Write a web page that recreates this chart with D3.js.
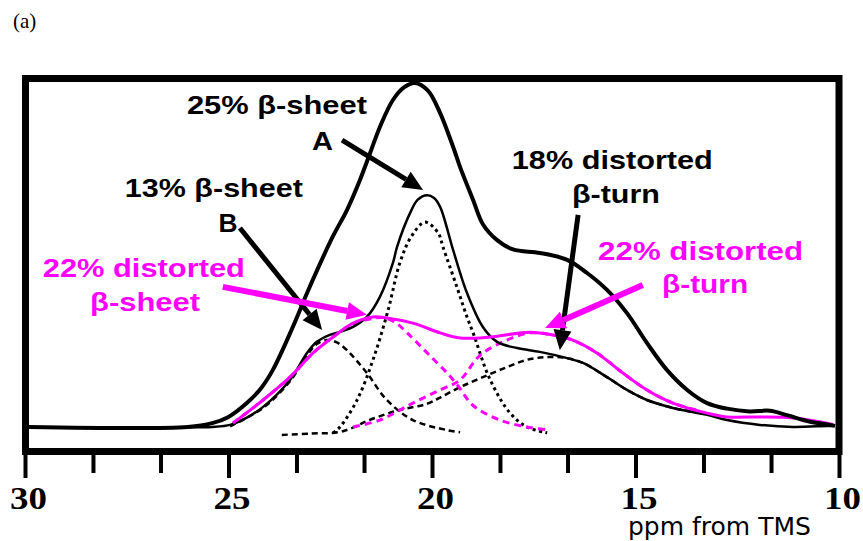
<!DOCTYPE html>
<html>
<head>
<meta charset="utf-8">
<script src="https://cdn.jsdelivr.net/npm/d3@7"></script>
<style>
  body { margin: 0; background: #fff; }
  svg { display: block; }
</style>
</head>
<body>
<svg width="863" height="541"></svg>
<script>
// ppm axis ticks
const majorTicks = [30, 25, 20, 15, 10];
const minorTicks = [28.33, 26.67, 23.33, 21.67, 18.33, 16.67, 13.33, 11.67];

// [ppm, intensity]
const envelope = [[29.9,0.3],[26.0,0.3],[25.4,1.4],[25.0,3.2],[24.55,7.2],[24.2,11.5],[23.91,16.8],[23.42,29.2],
  [23.07,39.0],[22.75,47.5],[22.43,55.5],[22.09,63.0],[21.77,71.7],[21.52,79.5],[21.28,87.0],[20.96,94.8],
  [20.68,98.5],[20.42,99.7],[20.1,97.5],[19.80,91.0],[19.48,81.2],[19.31,75.4],[18.99,65.9],[18.75,58.9],
  [18.40,54.3],[18.01,51.6],[17.35,50.6],[16.68,48.6],[16.19,44.8],[15.70,39.9],[15.21,33.2],[14.72,24.6],
  [14.23,16.8],[13.73,11.0],[13.24,7.2],[12.75,5.6],[12.2,4.8],[11.7,5.0],[11.3,3.8],[10.71,1.8],[10.22,0.9],[10.1,0.6]];

const fitSum = [[26.0,0.2],[25.4,0.3],[24.96,0.9],[24.55,3.0],[24.15,6.1],[23.49,13.9],[23.07,21.7],[22.83,24.9],
  [22.51,26.9],[22.2,28.0],[21.94,29.2],[21.60,32.1],[21.28,37.9],[20.96,47.7],[20.86,52.3],[20.54,62.1],
  [20.35,66.0],[20.12,67.3],[19.95,66.5],[19.80,63.9],[19.48,51.4],[19.14,39.0],[18.75,29.2],[18.40,24.9],
  [17.91,23.1],[17.35,22.0],[16.68,20.2],[16.29,18.8],[15.70,14.7],[15.21,11.0],[14.72,8.1],[14.08,5.8],
  [13.24,3.8],[12.75,2.3],[11.94,0.9],[11.13,0.3],[10.29,0.6],[10.1,0.6]];

const distortedSum = [[24.89,1.4],[24.15,8.1],[23.49,14.7],[22.92,21.7],[22.43,26.3],[21.94,30.3],[21.45,32.1],
  [21.11,31.8],[20.47,30.3],[19.80,27.5],[19.31,26.0],[18.57,26.3],[17.59,27.7],[17.03,26.9],[16.54,25.4],
  [15.95,21.7],[15.31,15.9],[14.72,11.0],[14.08,7.2],[13.24,4.3],[12.75,3.2],[11.94,3.2],[11.13,2.9],
  [10.29,1.4],[10.15,1.0]];

const sheetA = [[22.43,-1.4],[22.26,0.3],[21.84,8.1],[21.45,19.7],[21.08,34.0],[20.79,47.7],[20.5,55.5],
  [20.17,59.5],[19.85,56.4],[19.73,52.3],[19.39,40.8],[19.14,32.1],[18.99,27.5],[18.57,13.9],[18.08,4.3],
  [17.67,0.3],[17.17,-1.4]];

const sheetB = [[24.96,0.5],[24.15,5.8],[23.49,13.5],[23.07,21.0],[22.83,24.3],[22.58,25.4],[22.35,24.8],
  [22.09,22.5],[21.60,15.9],[21.11,8.1],[20.47,2.3],[19.63,-0.6],[19.31,-1.2]];

const turnBlack = [[23.69,-2.0],[23.0,-1.6],[22.3,-1.2],[21.9,0.3],[21.60,2.0],[20.86,5.0],[20.12,7.0],
  [19.80,8.8],[19.31,11.8],[18.75,14.7],[18.16,17.6],[17.67,19.7],[17.17,20.5],[16.68,20.2],[16.29,18.8],
  [15.70,14.7],[15.21,11.0],[14.72,8.1],[14.08,5.8],[13.5,4.4]];

const sheetMagenta = [[24.89,1.4],[24.15,8.1],[23.49,14.7],[22.92,21.7],[22.43,26.3],[21.94,30.0],[21.5,31.6],
  [21.2,31.9],[20.9,30.5],[20.61,27.5],[20.12,21.7],[19.63,15.9],[19.35,12.0],[18.99,6.5],[18.33,2.3],
  [17.67,0.3],[17.10,-0.6]];

const turnMagenta = [[21.94,0.3],[21.28,2.3],[20.47,7.2],[19.80,11.0],[19.31,13.9],[18.82,21.0],[18.16,25.4],
  [17.59,27.5],[17.03,26.9],[16.54,25.4],[15.95,21.7],[15.31,15.9],[14.72,11.0],[14.08,7.2],[13.5,5.2]];

// annotations: text lines at [ppm, intensity] and arrows from -> to
const labels = [
  {text: '25% β-sheet', at: [23.81, 90.8], w: 180, c: 'black'},
  {text: 'A', at: [22.69, 80.3], w: 21, c: 'black'},
  {text: '13% β-sheet', at: [25.36, 66.8], w: 178, c: 'black'},
  {text: 'B', at: [25.01, 56.6], w: 19, c: 'black'},
  {text: '22% distorted', at: [27.08, 43.6], w: 202, c: 'magenta'},
  {text: 'β-sheet', at: [27.05, 33.8], w: 110, c: 'magenta'},
  {text: '18% distorted', at: [15.57, 74.9], w: 201, c: 'black'},
  {text: 'β-turn', at: [15.48, 65.0], w: 88, c: 'black'},
  {text: '22% distorted', at: [13.40, 48.6], w: 205, c: 'magenta'},
  {text: 'β-turn', at: [13.29, 39.0], w: 86, c: 'magenta'}
];
const arrows = [
  {from: [22.21, 83.2], to: [20.22, 68.8], c: 'black'},
  {from: [24.72, 57.8], to: [22.70, 28.3], c: 'black'},
  {from: [25.14, 40.8], to: [21.60, 32.7], c: 'magenta'},
  {from: [16.41, 61.6], to: [16.86, 22.5], c: 'black'},
  {from: [14.82, 41.3], to: [17.22, 28.9], c: 'magenta'}
];

const colors = {black: '#000', magenta: '#ff00ff'};
const serif = "Liberation Serif, DejaVu Serif, serif";

const svg = d3.select('svg');
svg.append('rect').attr('width', 863).attr('height', 541).attr('fill', '#fff');

const x = d3.scaleLinear().domain([30, 10]).range([25, 839]);
const y = d3.scaleLinear().domain([0, 100]).range([428, 82]);

const line = d3.line()
  .x(d => x(d[0]))
  .y(d => y(d[1]))
  .curve(d3.curveCatmullRom.alpha(0.5));

// "(a)"
svg.append('text')
  .attr('x', 13).attr('y', 28)
  .style('font-family', serif).style('font-size', '21px')
  .text('(a)');

// component curves
function curve(data, color, width, dash) {
  svg.append('path')
    .datum(data)
    .attr('d', line)
    .attr('fill', 'none')
    .attr('stroke', color)
    .attr('stroke-width', width)
    .attr('stroke-dasharray', dash)
    .attr('stroke-linejoin', 'round');
}
curve(sheetA, '#000', 3, '3,3.5');
curve(sheetB, '#000', 2.5, '6,4');
curve(turnBlack, '#000', 2.5, '6,4');
curve(sheetMagenta, colors.magenta, 3, '7,5');
curve(turnMagenta, colors.magenta, 3, '7,5');
curve(fitSum, '#000', 2.5, null);
curve(distortedSum, colors.magenta, 3, null);
curve(envelope, '#000', 4, null);

// frame
svg.append('rect')
  .attr('x', 25.5).attr('y', 78.5)
  .attr('width', 839 - 25.5).attr('height', 451.5 - 78.5)
  .attr('fill', 'none').attr('stroke', '#000').attr('stroke-width', 7);

// axis
const axisG = svg.append('g').attr('transform', 'translate(0,455)');
axisG.append('g')
  .call(d3.axisBottom(x).tickValues(minorTicks).tickSize(18).tickFormat(''));
const majorG = axisG.append('g')
  .call(d3.axisBottom(x).tickValues(majorTicks).tickSize(23).tickPadding(9).tickFormat(d3.format('d')));
axisG.selectAll('.domain').remove();
axisG.selectAll('.tick line').attr('stroke', '#000').attr('stroke-width', 4);
majorG.selectAll('.tick text')
  .style('font-family', serif).style('font-weight', 'bold')
  .style('font-size', '31px').attr('fill', '#000')
  .attr('dx', 3)
  .attr('textLength', 37).attr('lengthAdjust', 'spacingAndGlyphs');

svg.append('text')
  .attr('x', 628).attr('y', 535)
  .style('font-family', 'DejaVu Sans').style('font-size', '25px')
  .text('ppm from TMS');

// arrows
arrows.forEach(a => {
  const x1 = x(a.from[0]), y1 = y(a.from[1]), x2 = x(a.to[0]), y2 = y(a.to[1]);
  const ang = Math.atan2(y2 - y1, x2 - x1);
  const headL = 20, headW = 9;
  const bx = x2 - headL * Math.cos(ang), by = y2 - headL * Math.sin(ang);
  const col = colors[a.c];
  svg.append('line')
    .attr('x1', x1).attr('y1', y1).attr('x2', bx).attr('y2', by)
    .attr('stroke', col).attr('stroke-width', a.c === 'magenta' ? 6 : 5);
  const px = -Math.sin(ang), py = Math.cos(ang);
  svg.append('path')
    .attr('d', `M${x2},${y2}L${bx + px * headW},${by + py * headW}L${bx - px * headW},${by - py * headW}Z`)
    .attr('fill', col);
});

// labels
svg.selectAll('text.label')
  .data(labels)
  .enter()
  .append('text')
  .attr('class', 'label')
  .attr('x', d => x(d.at[0]) - d.w / 2)
  .attr('y', d => y(d.at[1]))
  .style('font-family', 'Liberation Sans, Arial, sans-serif').style('font-weight', 'bold')
  .style('font-size', '25px')
  .attr('fill', d => colors[d.c])
  .attr('textLength', d => d.w).attr('lengthAdjust', 'spacingAndGlyphs')
  .text(d => d.text);
</script>
</body>
</html>
